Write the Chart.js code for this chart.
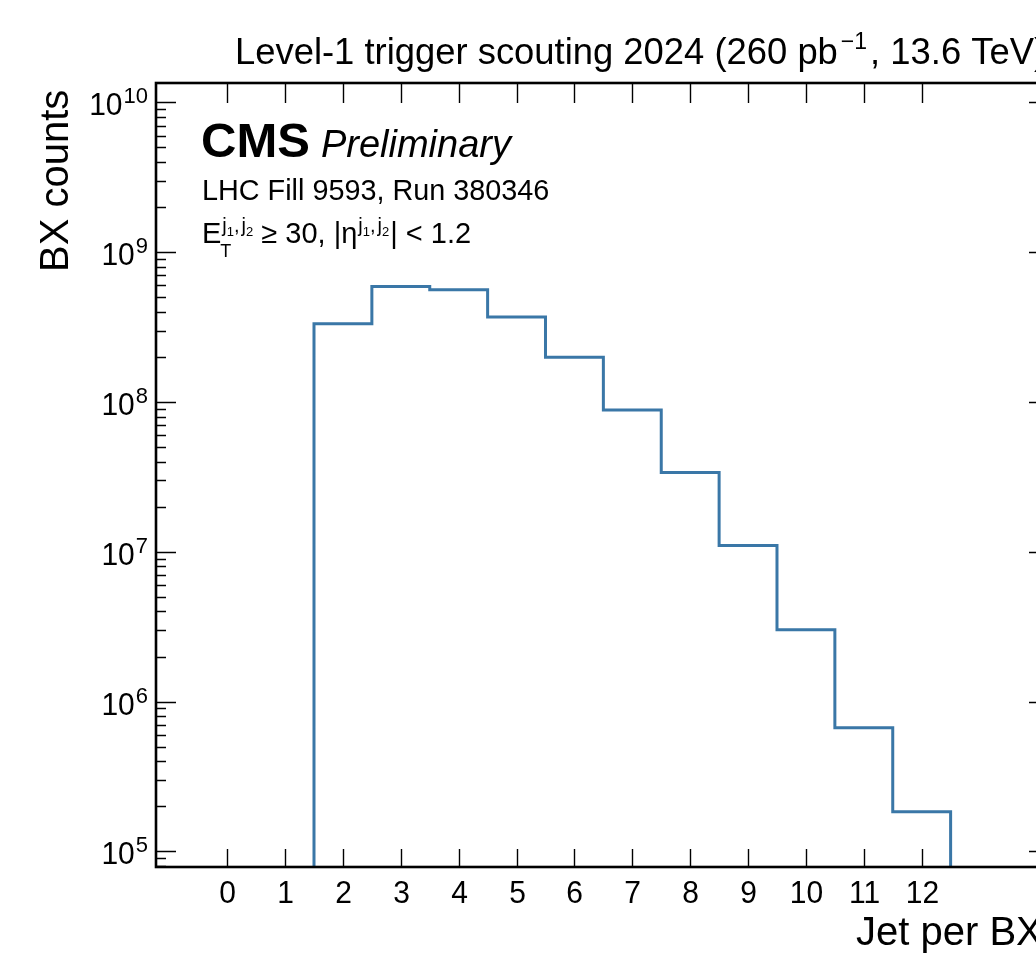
<!DOCTYPE html>
<html>
<head>
<meta charset="utf-8">
<script src="https://cdn.jsdelivr.net/npm/chart.js@4.4.1/dist/chart.umd.min.js"></script>
<style>
  html, body { margin: 0; padding: 0; background: #fff; overflow: hidden; }
  #wrap { width: 1100px; height: 955px; }
</style>
</head>
<body>
<div id="wrap"><canvas id="jetChart" width="1100" height="955" style="width:1100px;height:955px"></canvas></div>
<script>
// histogram: number of jets per bunch crossing
const jetBins = [0, 1, 2, 3, 4, 5, 6, 7, 8, 9, 10, 11, 12];
const bxCounts = [0, 0, 3.33e8, 5.91e8, 5.62e8, 3.69e8, 1.99e8, 8.85e7, 3.39e7, 1.10e7, 3.02e6, 6.70e5, 1.84e5];
const xTickValues = [0, 1, 2, 3, 4, 5, 6, 7, 8, 9, 10, 11, 12];
const yTickExponents = [5, 6, 7, 8, 9, 10];

const X_MIN = -1.23, X_MAX = 14.2;
const Y_MIN = Math.pow(10, 4.896), Y_MAX = Math.pow(10, 10.1295);
const FLOOR = 1e3; // empty bins drawn below the axis
const FONT = '"Liberation Sans", Arial, Helvetica, sans-serif';
const LINE_COLOR = '#3a77a7';

// step outline from bin edges
const stepPoints = [];
jetBins.forEach((b, i) => {
  const v = bxCounts[i] > 0 ? bxCounts[i] : FLOOR;
  stepPoints.push({ x: b - 0.5, y: v });
  stepPoints.push({ x: b + 0.5, y: v });
});
stepPoints.push({ x: jetBins[jetBins.length - 1] + 0.5, y: FLOOR });

// draws a run of text pieces, each {t, size, dy, weight, style, gap}
function drawParts(ctx, parts, x, y) {
  let cx = x;
  parts.forEach(p => {
    ctx.font = (p.style || '') + ' ' + (p.weight || '') + ' ' + p.size + 'px ' + FONT;
    cx += p.pre || 0;
    ctx.fillText(p.t, cx, y + (p.dy || 0));
    cx += ctx.measureText(p.t).width + (p.gap || 0);
  });
  return cx;
}
// text slightly taller than wide, like the original render
function tallText(ctx, txt, x, y, sy) {
  ctx.save();
  ctx.translate(x, y);
  ctx.scale(1, sy);
  ctx.fillText(txt, 0, 0);
  ctx.restore();
}

const cmsDecor = {
  id: 'cmsDecor',
  afterDraw(chart) {
    const ctx = chart.ctx;
    const a = chart.chartArea;
    const xs = chart.scales.x, ys = chart.scales.y;
    ctx.save();
    ctx.fillStyle = '#000';
    ctx.strokeStyle = '#000';
    ctx.textBaseline = 'alphabetic';

    // x ticks (inward, top and bottom)
    ctx.lineWidth = 1.4;
    xTickValues.forEach(v => {
      const px = Math.round(xs.getPixelForValue(v)) + 0.5;
      ctx.beginPath();
      ctx.moveTo(px, a.bottom); ctx.lineTo(px, a.bottom - 18);
      ctx.moveTo(px, a.top); ctx.lineTo(px, a.top + 20);
      ctx.stroke();
      ctx.textAlign = 'center';
      ctx.font = '30px ' + FONT;
      tallText(ctx, String(v), px, 903, 1.07);
    });

    // y ticks: decades + minor
    ctx.textAlign = 'left';
    for (let e = 4; e <= 10; e++) {
      for (let m = 1; m <= 9; m++) {
        const val = m * Math.pow(10, e);
        if (val < Y_MIN || val > Y_MAX) continue;
        const py = Math.round(ys.getPixelForValue(val)) + 0.5;
        const len = m === 1 ? 20 : 10;
        ctx.beginPath();
        ctx.moveTo(a.left, py); ctx.lineTo(a.left + len, py);
        ctx.moveTo(a.right, py); ctx.lineTo(a.right - len, py);
        ctx.stroke();
      }
    }
    yTickExponents.forEach(e => {
      const py = ys.getPixelForValue(Math.pow(10, e));
      ctx.font = '30px ' + FONT;
      const wb = ctx.measureText('10').width;
      ctx.font = '22px ' + FONT;
      const ws = ctx.measureText(String(e)).width;
      const x0 = 148 - ws - wb - 1;
      ctx.font = '30px ' + FONT;
      tallText(ctx, '10', x0, py + 13, 1.07);
      ctx.font = '22px ' + FONT;
      tallText(ctx, String(e), x0 + wb + 1, py + 1, 1.0);
    });

    // frame
    ctx.lineWidth = 2.6;
    ctx.strokeRect(a.left, a.top, a.right - a.left, a.bottom - a.top);

    // axis titles
    ctx.textAlign = 'left';
    ctx.font = '40px ' + FONT;
    ctx.fillText('Jet per BX', 856, 945);
    ctx.save();
    ctx.translate(68, 272);
    ctx.rotate(-Math.PI / 2);
    ctx.fillText('BX counts', 0, 0);
    ctx.restore();

    // lumi title
    drawParts(ctx, [
      { t: 'Level-1 trigger scouting 2024 (260 pb', size: 36.4 },
      { t: '\u22121', size: 23, dy: -15, pre: 3, gap: 3 },
      { t: ', 13.6 TeV)', size: 36.4 }
    ], 235, 64);

    // CMS label
    const cx = drawParts(ctx, [{ t: 'CMS', size: 49, weight: 'bold' }], 201, 157);
    drawParts(ctx, [{ t: 'Preliminary', size: 38, style: 'italic' }], cx + 11, 157);
    drawParts(ctx, [{ t: 'LHC Fill 9593, Run 380346', size: 28.8 }], 202, 200);

    // E_T^{j1,j2} >= 30, |eta^{j1,j2}| < 1.2
    const sup = [
      { t: 'j', size: 20, dy: -11 }, { t: '1', size: 13, dy: -7 },
      { t: ',', size: 20, dy: -11, gap: 2 }, { t: 'j', size: 20, dy: -11 }, { t: '2', size: 13, dy: -7 }
    ];
    let lx = drawParts(ctx, [{ t: 'E', size: 29 }], 202, 243);
    drawParts(ctx, [{ t: 'T', size: 18 }], lx - 1, 257);
    lx = drawParts(ctx, sup, lx + 1, 243);
    lx = drawParts(ctx, [{ t: ' \u2265 30, |\u03b7', size: 29 }], lx, 243);
    lx = drawParts(ctx, sup, lx + 1, 243);
    drawParts(ctx, [{ t: '| < 1.2', size: 29 }], lx + 1, 243);

    ctx.restore();
  }
};

new Chart(document.getElementById('jetChart').getContext('2d'), {
  type: 'line',
  data: {
    datasets: [{
      label: 'Jets',
      data: stepPoints,
      borderColor: LINE_COLOR,
      borderWidth: 3,
      pointRadius: 0,
      tension: 0,
      fill: false
    }]
  },
  options: {
    responsive: false,
    animation: false,
    devicePixelRatio: 1,
    layout: { padding: { left: 156, top: 83, right: 1100 - 1049, bottom: 955 - 867 } },
    plugins: { legend: { display: false }, tooltip: { enabled: false } },
    scales: {
      x: { type: 'linear', min: X_MIN, max: X_MAX, display: false },
      y: { type: 'logarithmic', min: Y_MIN, max: Y_MAX, display: false }
    }
  },
  plugins: [cmsDecor]
});
</script>
</body>
</html>
